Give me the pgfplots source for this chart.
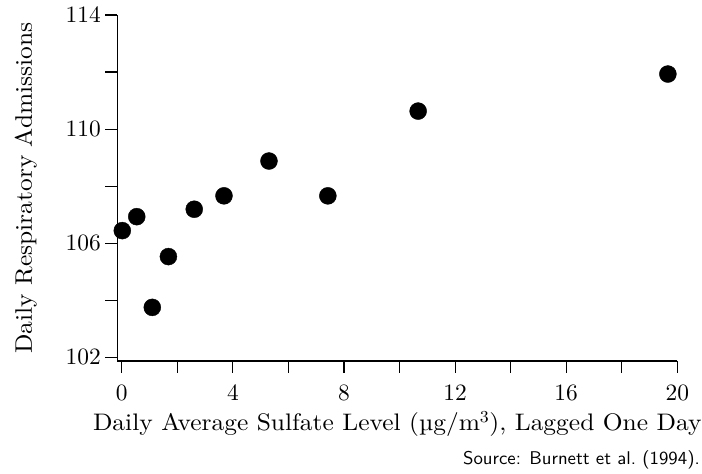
\documentclass[border=0pt]{standalone}
\usepackage{fontspec}
\setmainfont{lmroman10-regular.otf}[FakeStretch=1.065]
\setsansfont{lmsans10-regular.otf}[FakeStretch=1.02]
\newfontfamily\tickfont{lmroman10-regular.otf}
\usepackage{pgfplots}
\pgfplotsset{compat=1.18}
\begin{document}
\begin{tikzpicture}[x=1bp,y=1bp]
\useasboundingbox (0,0) rectangle (702,474);
\begin{axis}[
  at={(117.3bp,113bp)}, anchor=south west,
  scale only axis, width=560bp, height=346bp,
  xmin=-0.16, xmax=20, ymin=101.87, ymax=114,
  axis x line*=bottom, axis y line*=left,
  axis line style={-, line width=1.2bp},
  tick align=outside, major tick length=12bp,
  tick style={black, line width=1.1bp},
  xtick={0,2,...,20}, xticklabels={0,,4,,8,,12,,16,,20},
  ytick={102,104,...,114}, yticklabels={102,,106,,110,,114},
  /pgf/number format/assume math mode=true,
  ticklabel style={font=\tickfont\fontsize{23.5}{25}\selectfont},
  xticklabel style={yshift=-8bp},
  yticklabel style={xshift=-1bp},
  xlabel={Daily Average Sulfate Level (µg/m\textsuperscript{3}), Lagged One Day},
  ylabel={Daily Respiratory Admissions},
  xlabel style={font=\fontsize{24}{26}\selectfont, at={(rel axis cs:0.5,0)}, anchor=base, yshift=-70bp},
  ylabel style={font=\fontsize{24}{26}\selectfont, at={([xshift=-85.3bp]rel axis cs:0,0.5)}, anchor=base},
  clip=false,
]
\addplot[only marks, mark=*, mark size=8.5bp, mark options={fill=black, draw=black}] coordinates {
  (0.02,106.44) (0.54,106.93) (1.10,103.75) (1.68,105.53) (2.61,107.19)
  (3.68,107.66) (5.30,108.88) (7.42,107.66) (10.67,110.63) (19.66,111.93)
};
\end{axis}
\node[anchor=base east, font=\sffamily\fontsize{18.5}{20}\selectfont, inner sep=0pt] at (700,9) {Source: Burnett et al.\ (1994).};
\end{tikzpicture}
\end{document}
